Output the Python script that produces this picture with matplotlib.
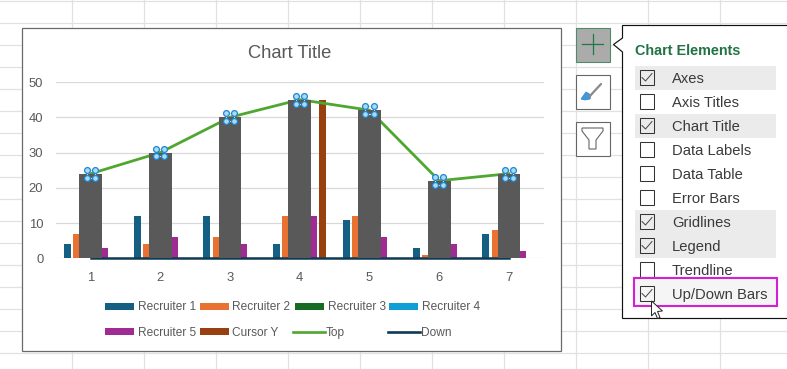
import numpy as np
import matplotlib
matplotlib.use("Agg")
import matplotlib.pyplot as plt
from matplotlib.patches import Rectangle, Polygon

plt.rcParams['font.family'] = ['Liberation Sans', 'DejaVu Sans']

# ==========================================
# Chart data
# ==========================================
categories = [1, 2, 3, 4, 5, 6, 7]
recruiter_1 = [4, 12, 12, 4, 11, 3, 7]
recruiter_2 = [7, 4, 6, 12, 12, 1, 8]
# Recruiter 3 and 4 sit behind the up/down bars, so they cannot be read
recruiter_3 = [0, 0, 0, 0, 0, 0, 0]
recruiter_4 = [0, 0, 0, 0, 0, 0, 0]
recruiter_5 = [3, 6, 4, 12, 6, 4, 2]
cursor_y = [0, 0, 0, 45, 0, 0, 0]
top = [24, 30, 40, 45, 42, 22, 24]
down = [0, 0, 0, 0, 0, 0, 0]

series_names = ['Recruiter 1', 'Recruiter 2', 'Recruiter 3', 'Recruiter 4', 'Recruiter 5', 'Cursor Y']
series_values = [recruiter_1, recruiter_2, recruiter_3, recruiter_4, recruiter_5, cursor_y]
series_colors = ['#156082', '#E97132', '#196B24', '#0F9ED5', '#A02B93', '#98400F']

menu_items = ['Axes', 'Axis Titles', 'Chart Title', 'Data Labels', 'Data Table',
              'Error Bars', 'Gridlines', 'Legend', 'Trendline', 'Up/Down Bars']
menu_checked = [True, False, True, False, False, False, True, True, False, True]

W, H = 787, 369
TEXT = '#595959'
fig = plt.figure(figsize=(W / 100, H / 100), dpi=100)

# ==========================================
# Background layer, in pixel coordinates
# ==========================================
bg = fig.add_axes([0, 0, 1, 1], zorder=0)
bg.set_xlim(0, W)
bg.set_ylim(H, 0)
bg.axis('off')

for x in np.arange(71.5, W, 72):
    bg.plot([x, x], [0, H], color='#E1E1E1', lw=0.9)
for y in np.arange(0.5, H, 22):
    bg.plot([0, W], [y, y], color='#E1E1E1', lw=0.9)

bg.add_patch(Rectangle((21.5, 27.5), 539.5, 323.5, fc='white', ec='#6A6A6A', lw=0.9, zorder=3))
bg.text(290, 51, 'Chart Title', ha='center', va='center_baseline', fontsize=13.2, color=TEXT, zorder=4)

# ==========================================
# Chart
# ==========================================
ax = fig.add_axes([55.8 / W, 1 - 258.3 / H, 488 / W, 176.3 / H], zorder=1)
ax.patch.set_alpha(0)
x = np.array(categories)
bar_w = 0.1
step = 0.133

ax.yaxis.grid(True, color='#D9D9D9', lw=0.9, zorder=0)
ax.set_axisbelow(True)
for i, vals in enumerate(series_values):
    ax.bar(x + (i - 2.5) * step, vals, width=bar_w, color=series_colors[i], zorder=2)

ax.plot(x, down, color='#0E3A54', lw=1.8, zorder=3, solid_capstyle='projecting', clip_on=False)
ax.plot(x, top, color='#4EA72E', lw=2.0, zorder=3, solid_joinstyle='round')
# up/down bars
ax.bar(x, top, width=0.325, color='#595959', zorder=4, clip_on=False)

# selection handles on top of every up/down bar
for cx, cy in zip(x, top):
    hx = [cx - 0.059, cx + 0.059, cx + 0.059, cx - 0.059, cx - 0.059]
    hy = [cy + 1.1, cy + 1.1, cy - 1.1, cy - 1.1, cy + 1.1]
    ax.plot(hx, hy, color='#BFE3F8', lw=0.8, zorder=5, clip_on=False)
    ax.plot(hx[:4], hy[:4], ls='none', marker='o', ms=4.2, mfc='#A9DBF7', mec='#1F86D0', mew=0.9,
            zorder=6, clip_on=False)

ax.set_xlim(0.5, 7.5)
ax.set_ylim(0, 50)
ax.set_yticks([0, 10, 20, 30, 40, 50])
ax.set_xticks(categories)
ax.tick_params(length=0, labelsize=9.4, labelcolor=TEXT)
ax.tick_params(axis='x', pad=10)
ax.tick_params(axis='y', pad=9)
for s in ax.spines.values():
    s.set_visible(False)

# ==========================================
# Foreground layer: legend and Excel popup
# ==========================================
fg = fig.add_axes([0, 0, 1, 1], zorder=2)
fg.set_xlim(0, W)
fg.set_ylim(H, 0)
fg.axis('off')
fg.patch.set_alpha(0)

# legend
legend_x = [105, 200, 295, 389, 105, 200]
legend_y = [306, 306, 306, 306, 331.5, 331.5]
for name, col, lx, ly in zip(series_names, series_colors, legend_x, legend_y):
    fg.add_patch(Rectangle((lx, ly - 3.5), 29, 7, fc=col, ec='none'))
    fg.text(lx + 32.5, ly, name, va='center_baseline', fontsize=8.6, color=TEXT)
fg.plot([293, 325], [331.5, 331.5], color='#4EA72E', lw=1.9)
fg.text(326, 331.5, 'Top', va='center_baseline', fontsize=8.6, color=TEXT)
fg.plot([388, 420], [331.5, 331.5], color='#0E3A54', lw=1.9)
fg.text(421.5, 331.5, 'Down', va='center_baseline', fontsize=8.6, color=TEXT)

# side buttons
fg.add_patch(Rectangle((575.5, 27.5), 34.5, 34, fc='#ABABAB', ec='#4F8A6B', lw=0.8))
fg.plot([592.5, 592.5], [34, 54], color='#1F7A45', lw=0.9)
fg.plot([582, 603], [44, 44], color='#1F7A45', lw=0.9)
fg.add_patch(Rectangle((575.5, 74.5), 34.5, 34.5, fc='white', ec='#666666', lw=0.8))
fg.plot([589, 601], [97, 84], color='#8A8A8A', lw=1.6, solid_capstyle='round')
fg.add_patch(Polygon([[581, 99], [586, 92], [591, 95], [590, 99], [585, 100]], fc='#3E9BDC', ec='#2F7FBF', lw=0.5))
fg.add_patch(Rectangle((575.5, 121.5), 34.5, 34, fc='white', ec='#666666', lw=0.8))
fg.add_patch(Polygon([[582, 128], [603, 128], [603, 131], [596, 140], [596, 149], [589, 149], [589, 140], [582, 131]],
                     fc='white', ec='#666666', lw=0.8))

# popup panel
fg.add_patch(Polygon([[787, 25.5], [622.5, 25.5], [622.5, 38], [613.5, 44.5], [622.5, 52],
                      [622.5, 318.5], [787, 318.5]], closed=False, fc='white', ec='#111111', lw=0.85))
fg.text(635, 49.5, 'Chart Elements', va='center_baseline', fontsize=10.4, fontweight='bold', color='#217346')

for i, (item, checked) in enumerate(zip(menu_items, menu_checked)):
    y = 77.5 + 24 * i
    if checked and item != 'Up/Down Bars':
        fg.add_patch(Rectangle((635, y - 12), 141, 24, fc='#EBEBEB', ec='none'))
    if item == 'Up/Down Bars':
        fg.add_patch(Rectangle((634, 277.5), 143, 28.5, fc='#F5F5F5', ec='#D41FD4', lw=1.5))
    fg.add_patch(Rectangle((639.5, y - 7.5), 14.5, 14.5, fc='none', ec='#333333', lw=0.75))
    if checked:
        fg.plot([642, 645.5, 652], [y, y + 3.5, y - 4], color='#444444', lw=0.7)
    fg.text(672, y, item, va='center_baseline', fontsize=10.6, color='#3A3A3A')

# mouse cursor
fg.add_patch(Polygon([[651.5, 301], [651.5, 316], [655, 312.5], [657.5, 318.5], [660, 317.5],
                      [657.5, 311.5], [662.5, 311]], fc='white', ec='#222222', lw=0.7, zorder=8))

plt.savefig('out.png', dpi=100)
